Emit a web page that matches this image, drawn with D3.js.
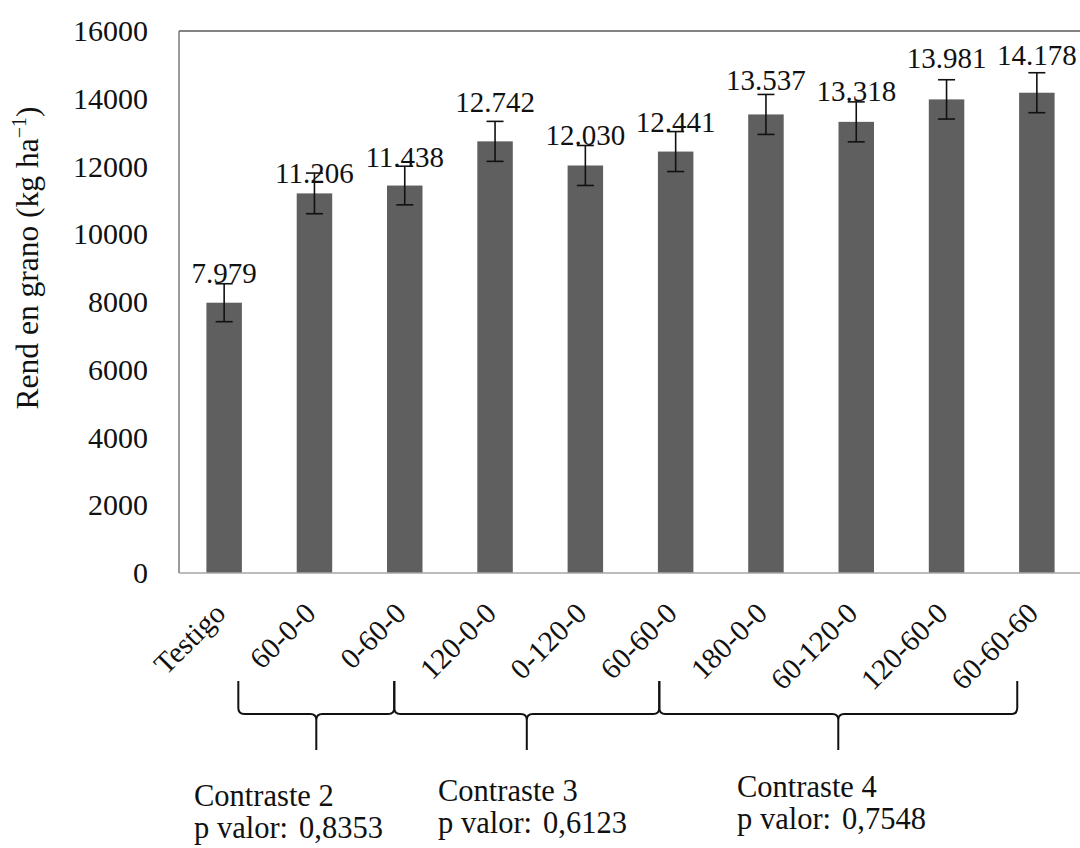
<!DOCTYPE html>
<html>
<head>
<meta charset="utf-8">
<script src="https://cdn.jsdelivr.net/npm/d3@7"></script>
<style>
  html, body { margin: 0; padding: 0; background: #fff; }
  svg { display: block; }
  text { font-family: "Liberation Serif", "Times New Roman", serif; fill: #111; }
</style>
</head>
<body>
<script>
// Treatments (N-P-K doses) and grain yield
const categories = ["Testigo", "60-0-0", "0-60-0", "120-0-0", "0-120-0", "60-60-0", "180-0-0", "60-120-0", "120-60-0", "60-60-60"];
const yieldValues = [7979, 11206, 11438, 12742, 12030, 12441, 13537, 13318, 13981, 14178];
const yieldError = [560, 600, 570, 590, 590, 590, 590, 590, 580, 590];
const yTicks = [0, 2000, 4000, 6000, 8000, 10000, 12000, 14000, 16000];

// Contrast groups: span in band units and statistics
const contrastNames = ["Contraste 2", "Contraste 3", "Contraste 4"];
const contrastPValues = ["0,8353", "0,6123", "0,7548"];
const contrastSpans = [[0.657, 2.384], [2.384, 5.319], [5.319, 9.283]];

const W = 1080, H = 848;
const plot = { left: 179, right: 1082, top: 31, bottom: 573 };

const svg = d3.select("body").append("svg")
  .attr("width", W).attr("height", H);

const x = d3.scaleBand()
  .domain(categories)
  .range([plot.left, plot.right])
  .paddingInner(0.607)
  .paddingOuter(0.3035);

const y = d3.scaleLinear()
  .domain([0, 16000])
  .range([plot.bottom, plot.top]);

const bandPos = d3.scaleLinear()
  .domain([0, categories.length])
  .range([plot.left, plot.right]);

const fmt = d3.formatLocale({ decimal: ",", thousands: ".", grouping: [3], currency: ["", ""] }).format(",");

// Frame: top, left and right edges
svg.append("line")
  .attr("x1", plot.left).attr("x2", plot.right)
  .attr("y1", plot.top).attr("y2", plot.top)
  .attr("stroke", "#595959").attr("stroke-width", 1.5);
svg.append("line")
  .attr("x1", plot.left).attr("x2", plot.left)
  .attr("y1", plot.top).attr("y2", plot.bottom)
  .attr("stroke", "#7a7a7a").attr("stroke-width", 1.5);
svg.append("line")
  .attr("x1", plot.right).attr("x2", plot.right)
  .attr("y1", plot.top).attr("y2", plot.bottom)
  .attr("stroke", "#595959").attr("stroke-width", 1.5);

// Y axis tick labels
const yAxis = svg.append("g")
  .attr("transform", `translate(${plot.left},0)`)
  .call(d3.axisLeft(y).tickValues(yTicks).tickSize(0).tickPadding(31).tickFormat(d3.format("d")));
yAxis.select(".domain").remove();
yAxis.selectAll("text")
  .attr("font-family", "Liberation Serif")
  .attr("font-size", 30)
  .attr("fill", "#111");

// Bars
svg.append("g").selectAll("rect")
  .data(yieldValues)
  .join("rect")
  .attr("x", (d, i) => x(categories[i]))
  .attr("width", x.bandwidth())
  .attr("y", d => y(d))
  .attr("height", d => y(0) - y(d))
  .attr("fill", "#5f5f5f");

// Bottom axis line
svg.append("line")
  .attr("x1", plot.left).attr("x2", plot.right)
  .attr("y1", plot.bottom).attr("y2", plot.bottom)
  .attr("stroke", "#a6a6a6").attr("stroke-width", 1.5);

// Error bars
const eb = svg.append("g").attr("stroke", "#111").attr("stroke-width", 1.6).attr("fill", "none");
yieldValues.forEach((v, i) => {
  const cx = x(categories[i]) + x.bandwidth() / 2;
  const lo = y(v - yieldError[i]), hi = y(v + yieldError[i]);
  const cap = 8.5;
  eb.append("line").attr("x1", cx).attr("x2", cx).attr("y1", lo).attr("y2", hi);
  eb.append("line").attr("x1", cx - cap).attr("x2", cx + cap).attr("y1", lo).attr("y2", lo);
  eb.append("line").attr("x1", cx - cap).attr("x2", cx + cap).attr("y1", hi).attr("y2", hi);
});

// Value labels above bars (lift in px above bar top)
const labelLift = [20, 10, 19, 29, 20, 20, 24, 21, 31, 28];
svg.append("g").selectAll("text")
  .data(yieldValues)
  .join("text")
  .attr("x", (d, i) => x(categories[i]) + x.bandwidth() / 2)
  .attr("y", (d, i) => y(d) - labelLift[i])
  .attr("text-anchor", "middle")
  .attr("font-size", 29)
  .text(d => fmt(d));

// Category labels, rotated
svg.append("g").selectAll("text")
  .data(categories)
  .join("text")
  .attr("transform", d => `translate(${x(d) + x.bandwidth() / 2 + 3},${plot.bottom + 42}) rotate(-45)`)
  .attr("text-anchor", "end")
  .attr("font-size", 29.5)
  .text(d => d);

// Y axis title
const yt = svg.append("text")
  .attr("transform", "translate(38,258) rotate(-90)")
  .attr("text-anchor", "middle")
  .attr("font-size", 31.5);
yt.append("tspan").text("Rend en grano (kg ha");
yt.append("tspan").attr("dy", -12).attr("font-size", 20).text("\u22121");
yt.append("tspan").attr("dy", 12).text(")");

// Curly braces grouping treatments
const braceTop = 681, braceMid = 714, braceTip = 750, r = 6;
function bracePath(xl, xr) {
  const xm = (xl + xr) / 2;
  return `M${xl},${braceTop} L${xl},${braceMid - r} Q${xl},${braceMid} ${xl + r},${braceMid}` +
         ` L${xm - r},${braceMid} Q${xm},${braceMid} ${xm},${braceMid + r} L${xm},${braceTip}` +
         ` M${xm},${braceMid + r} Q${xm},${braceMid} ${xm + r},${braceMid}` +
         ` L${xr - r},${braceMid} Q${xr},${braceMid} ${xr},${braceMid - r} L${xr},${braceTop}`;
}
svg.append("g").selectAll("path")
  .data(contrastSpans)
  .join("path")
  .attr("d", d => bracePath(bandPos(d[0]), bandPos(d[1])))
  .attr("fill", "none")
  .attr("stroke", "#111")
  .attr("stroke-width", 2);

// Contrast annotations
const notePos = [[194, 806], [438, 801], [737, 797]];
contrastNames.forEach((name, i) => {
  const t = svg.append("text")
    .attr("x", notePos[i][0]).attr("y", notePos[i][1])
    .attr("font-size", 30.5);
  t.append("tspan").attr("x", notePos[i][0]).text(name);
  t.append("tspan").attr("x", notePos[i][0]).attr("dy", 32).text("p valor:");
  t.append("tspan").attr("dx", 11).text(contrastPValues[i]);
});
</script>
</body>
</html>
